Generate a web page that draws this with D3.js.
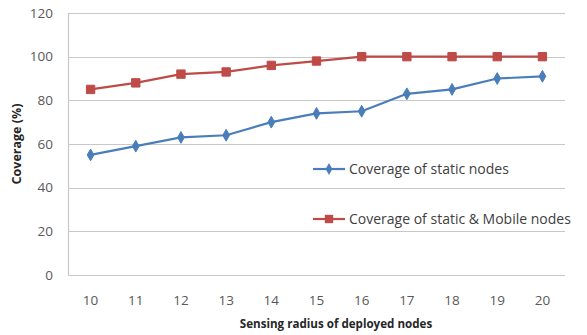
<!DOCTYPE html>
<html>
<head>
<meta charset="utf-8">
<script src="https://cdn.jsdelivr.net/npm/d3@7"></script>
<style>
  html, body { margin: 0; padding: 0; background: #fff; }
  svg { display: block; }
  text { font-family: "Open Sans", "Noto Sans", sans-serif; }
</style>
</head>
<body>
<svg id="chart" width="587" height="335"></svg>
<script>
// Sensing radius values on the x axis
const radii = [10, 11, 12, 13, 14, 15, 16, 17, 18, 19, 20];
// Coverage (%) for each deployment scheme
const staticCoverage = [55, 59, 63, 64, 70, 74, 75, 83, 85, 90, 91];
const mobileCoverage = [85, 88, 92, 93, 96, 98, 100, 100, 100, 100, 100];
const yTicks = [0, 20, 40, 60, 80, 100, 120];
const seriesNames = ["Coverage of static nodes", "Coverage of static & Mobile nodes"];

const svg = d3.select("#chart");
const plot = { left: 68, right: 565, top: 13, bottom: 275 };

const x = d3.scalePoint()
  .domain(radii)
  .range([plot.left, plot.right])
  .padding(0.5);

const y = d3.scaleLinear()
  .domain([0, 120])
  .range([plot.bottom, plot.top]);

// Horizontal gridlines
svg.append("g")
  .selectAll("line")
  .data(yTicks)
  .join("line")
  .attr("x1", plot.left)
  .attr("x2", plot.right)
  .attr("y1", d => Math.round(y(d)) + 0.5)
  .attr("y2", d => Math.round(y(d)) + 0.5)
  .attr("stroke", "#c8c8c8")
  .attr("stroke-width", 1.2);

// Left axis line
svg.append("line")
  .attr("x1", plot.left + 0.5).attr("x2", plot.left + 0.5)
  .attr("y1", plot.top).attr("y2", plot.bottom + 0.5)
  .attr("stroke", "#c8c8c8").attr("stroke-width", 1.2);

// Y tick labels
svg.append("g")
  .selectAll("text")
  .data(yTicks)
  .join("text")
  .attr("x", 53)
  .attr("y", d => y(d))
  .attr("dy", "0.35em")
  .attr("text-anchor", "end")
  .attr("font-size", 13.5)
  .attr("fill", "#595959")
  .text(d => d);

// X tick labels
svg.append("g")
  .selectAll("text")
  .data(radii)
  .join("text")
  .attr("x", d => x(d))
  .attr("y", 300)
  .attr("dy", "0.35em")
  .attr("text-anchor", "middle")
  .attr("font-size", 13.5)
  .attr("fill", "#595959")
  .text(d => d);

// Axis titles
svg.append("text")
  .attr("x", 336)
  .attr("y", 324)
  .attr("dy", "0.35em")
  .attr("text-anchor", "middle")
  .attr("font-size", 11.6)
  .attr("font-weight", "bold")
  .attr("fill", "#262626")
  .text("Sensing radius of deployed nodes");

svg.append("text")
  .attr("transform", `translate(17,${(plot.top + plot.bottom) / 2}) rotate(-90)`)
  .attr("dy", "0.35em")
  .attr("text-anchor", "middle")
  .attr("font-size", 12.5)
  .attr("font-weight", "bold")
  .attr("fill", "#262626")
  .text("Coverage (%)");

const blue = "#4a7ebb";
const red = "#be4b48";

const line = d3.line()
  .x((d, i) => x(radii[i]))
  .y(d => y(d));

const series = [
  { name: seriesNames[0], values: staticCoverage, color: blue, symbol: d3.symbolDiamond, size: 40 },
  { name: seriesNames[1], values: mobileCoverage, color: red, symbol: d3.symbolSquare, size: 70 }
];

series.forEach(s => {
  svg.append("path")
    .attr("d", line(s.values))
    .attr("fill", "none")
    .attr("stroke", s.color)
    .attr("stroke-width", 2.2)
    .attr("stroke-linejoin", "round");

  svg.append("g")
    .selectAll("path")
    .data(s.values)
    .join("path")
    .attr("transform", (d, i) => `translate(${x(radii[i])},${y(d)})`)
    .attr("d", d3.symbol().type(s.symbol).size(s.size))
    .attr("fill", s.color)
    .attr("stroke", s.color)
    .attr("stroke-width", 1);
});

// Legend
const legendRows = [169, 219];
series.forEach((s, i) => {
  const g = svg.append("g").attr("transform", `translate(313,${legendRows[i]})`);
  g.append("line")
    .attr("x1", 0).attr("x2", 32)
    .attr("stroke", s.color).attr("stroke-width", 2.2);
  g.append("path")
    .attr("transform", "translate(16,0)")
    .attr("d", d3.symbol().type(s.symbol).size(s.size))
    .attr("fill", s.color);
  g.append("text")
    .attr("x", 36)
    .attr("dy", "0.35em")
    .attr("font-size", 14)
    .attr("fill", "#404040")
    .text(s.name);
});
</script>
</body>
</html>
